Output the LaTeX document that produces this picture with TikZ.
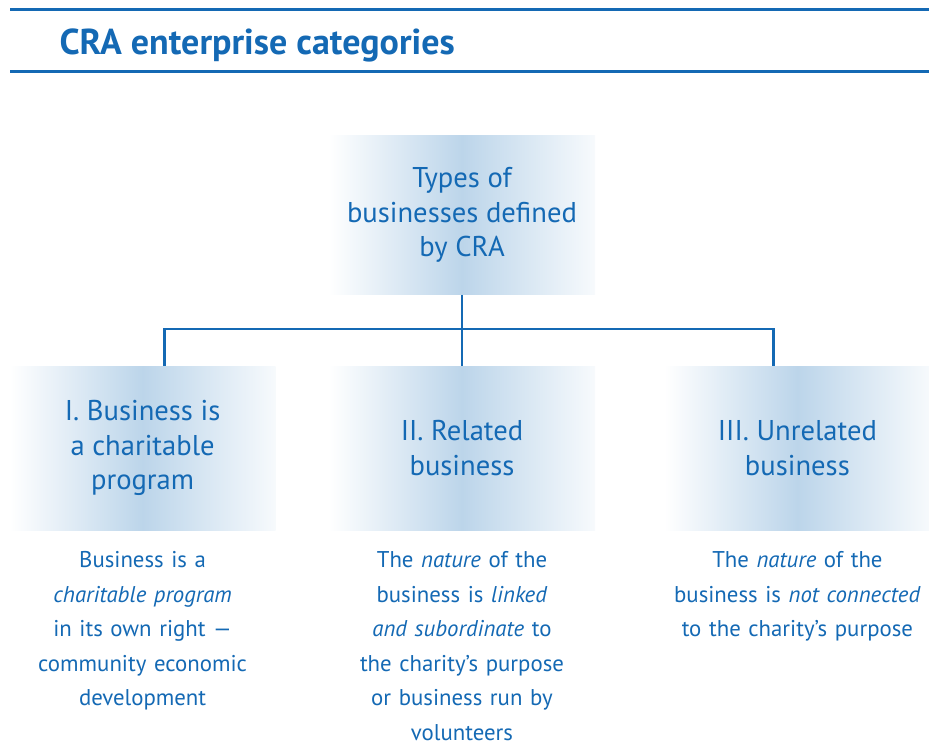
\documentclass[tikz,border=0pt]{standalone}
\usepackage{fontspec}
\setmainfont{PT Sans}
\usetikzlibrary{positioning}
\definecolor{crablue}{HTML}{1469B4}
\definecolor{shadeblue}{HTML}{BCD5EA}
\tikzset{
  typebox/.style={minimum width=266pt, minimum height=164pt, inner sep=0pt, align=center,
    left color=white, right color=shadeblue!12, middle color=shadeblue,
    text=crablue, font=\fontsize{28.6}{34.5}\selectfont},
  note/.style={text width=260pt, align=center, inner sep=0pt, text=crablue,
    font=\fontsize{22.8}{34.6}\selectfont},
  link/.style={draw=crablue, line width=2.4pt}
}

\begin{document}
\begin{tikzpicture}[x=1pt, y=-1pt]
    \useasboundingbox (0,0) rectangle (929,747);

    \draw[link, line width=3pt] (10,9) -- (929,9) (10,71) -- (929,71);
    \node[anchor=base west, text=crablue, font=\bfseries\fontsize{36}{36}\selectfont] (title) at (56,54) {CRA enterprise categories};

    \node[typebox] (b2) at (462,448) {II. Related\\business};
    \node[typebox, left=53pt of b2]  (b1) {I. Business is\\a charitable\\program};
    \node[typebox, right=69pt of b2] (b3) {III. Unrelated\\business};
    \node[typebox, minimum height=159pt, above=71pt of b2] (top) {Types of\\businesses defined\\by CRA};

    \coordinate (bus) at (462,329);
    \draw[link] (top) -- (b2);
    \draw[link] ([xshift=22pt]b1.north) |- (bus) -| ([xshift=-24pt]b3.north);

    \node[note, below=21pt of b1] (n1) {Business is a\\\textit{charitable program}\\in its own right ---\\community economic\\development};
    \node[note, below=21pt of b2] (n2) {The \textit{nature} of the\\business is \textit{linked}\\\textit{and subordinate} to\\the charity's purpose\\or business run by\\volunteers};
    \node[note, below=21pt of b3] (n3) {The \textit{nature} of the\\business is \textit{not connected}\\to the charity's purpose};

\end{tikzpicture}
\end{document}
